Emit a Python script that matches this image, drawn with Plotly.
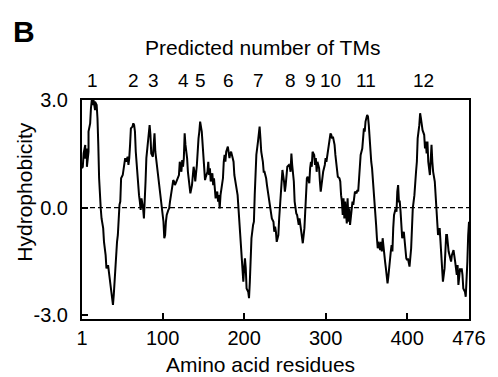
import plotly.graph_objects as go

# Residue positions and hydrophobicity values
residues = [1, 2, 3, 5, 5, 7, 7, 9, 9, 11, 12, 13, 14, 15, 17, 17, 19, 20, 21, 22, 24, 25, 27, 28,
            30, 31, 33, 34, 35, 36, 38, 39, 40, 41, 42, 44, 45, 46, 47, 48, 49, 51, 52, 53, 54,
            55, 57, 58, 59, 60, 61, 63, 64, 65, 66, 67, 69, 70, 71, 72, 73, 74, 76, 77, 78, 79,
            80, 82, 83, 84, 85, 86, 88, 89, 90, 91, 92, 94, 95, 96, 97, 98, 99, 101, 102, 103,
            104, 105, 107, 108, 109, 110, 111, 113, 114, 115, 116, 117,
            120, 121, 123, 124, 125, 126, 127, 128, 130, 131, 132, 133, 134, 136, 137, 138, 139,
            140, 142, 143, 144, 145, 146, 148, 149, 150, 151, 152, 153, 155, 156, 157, 158, 159,
            161, 162, 163, 164, 165, 167, 168, 169, 170, 171, 173, 174, 175, 176, 177, 178, 180,
            181, 182, 183, 184, 186, 187, 188, 189, 190, 192, 193, 194, 195, 196, 198, 199, 200,
            201, 202, 203, 205, 206, 207, 208, 209, 211, 212, 213, 214, 215, 217, 218, 219, 220,
            221, 223, 224, 225, 226, 227, 228, 230, 231, 232, 233, 234,
            236, 237, 238, 239, 240, 242, 243, 244, 245, 246, 247, 249, 250, 251, 252, 253, 255,
            256, 257, 258, 259, 261, 262, 263, 264, 265, 267, 268, 269, 270, 271, 272, 274, 275,
            276, 277, 278, 280, 281, 282, 283, 284, 286, 287, 288, 289, 290, 292, 293, 294, 295,
            296, 297, 299, 300, 301, 302, 303, 305, 306, 307, 308, 309, 311, 312, 313, 314, 315,
            317, 318, 319, 320, 321, 322, 323, 324, 326, 327, 328, 329, 330, 332, 333, 334, 335,
            336, 338, 339, 340, 341, 342, 343, 345, 346, 347, 348, 349, 351, 352, 353, 354,
            356, 357, 358, 359, 361, 362, 363, 364, 365, 367, 368, 369, 370, 371, 373, 374, 375,
            376, 377, 378, 380, 381, 382, 383, 384, 386, 387, 388, 389, 390, 391, 392, 393, 394,
            396, 397, 398, 399, 400, 401, 403, 404, 405, 406, 407, 409, 410, 411, 412, 413, 415,
            416, 417, 418, 419, 421, 422, 423, 424, 425, 426, 428, 429, 430, 431, 432, 434, 435,
            436, 437, 438, 440, 441, 442, 443, 444, 446, 447, 448, 449, 450, 451, 453, 454, 455,
            456, 457, 459, 460, 461, 462, 463, 465, 466, 467, 468, 469, 471, 472, 473, 474, 475, 476]

hydrophobicity = [1.10, 1.14, 1.51, 1.75, 1.37, 1.65, 1.14, 1.56, 2.12, 2.35, 2.77, 3.00, 2.86, 3.02,
                  2.72, 2.95, 2.86, 2.49, 1.75, 0.82, -0.02, -0.30, -0.57, -0.95, -1.32, -1.69,
                  -1.60, -1.78, -1.83, -2.15, -2.43, -2.71, -2.43, -1.97, -1.50, -0.95, -0.76,
                  -0.02, 0.08, 0.17, 0.82, 0.91, 1.10, 1.28, 1.38, 1.28, 1.42, 1.19, 1.38, 1.75,
                  2.21, 2.26, 2.35, 2.30, 2.12, 1.56, 0.82, 0.63, 0.35, 0.17, -0.06, 0.26, -0.02,
                  -0.30, 0.08, 0.73, 1.38, 1.84, 2.07, 2.30, 2.03, 1.51, 1.42, 1.84, 2.07, 1.56,
                  1.38, 0.91, 0.73, 0.54, 0.35, 0.17, -0.02, -0.39, -0.85, -0.76, -0.39, -0.20,
                  -0.06, -0.02, 0.17, 0.35, 0.54, 0.77, 0.73, 0.63, 0.68, 0.73,
                  0.91, 1.28, 1.00, 1.33, 1.14, 1.38, 2.07, 1.75, 1.38, 1.00, 0.73, 0.54, 0.40,
                  0.63, 1.00, 1.14, 1.00, 0.73, 1.19, 1.65, 1.93, 2.12, 2.40, 2.12, 1.75, 1.28,
                  0.91, 0.77, 0.86, 1.00, 1.28, 0.91, 1.10, 0.73, 0.96, 0.63, 0.82, 0.45, 0.26,
                  0.45, 0.17, 0.35, -0.02, 0.35, 0.63, 0.82, 1.28, 1.47, 1.28, 1.56, 1.70, 1.51,
                  1.38, 1.51, 1.56, 1.38, 1.28, 0.91, 0.68, 0.63, 0.35, -0.02, -0.30, -0.57,
                  -1.04, -1.69, -2.06, -1.69, -1.41, -1.69, -2.25, -2.34, -2.52, -2.06, -1.32,
                  -0.85, -0.48, -0.39, 0.35, 1.10, 1.47, 1.84, 2.12, 2.26, 1.93, 1.56, 1.28, 1.00,
                  1.00, 0.91, 0.82, 0.63, 0.35, 0.08, -0.06, -0.11, -0.30,
                  -0.39, -0.67, -0.53, -0.67, -0.95, -0.76, -0.30, 0.08, 0.35, 0.82, 1.05, 0.73,
                  0.45, 0.63, 0.91, 1.14, 1.19, 1.14, 1.00, 1.51, 1.19, 0.73, 0.17, -0.06, -0.16,
                  -0.20, -0.48, -0.30, -0.48, -0.57, -0.76, -0.99, -0.57, 0.08, 0.54, 0.82, 0.86,
                  0.68, 1.10, 1.28, 1.14, 1.56, 1.47, 1.19, 1.38, 1.00, 1.28, 1.10, 0.73, 0.45,
                  0.63, 0.82, 1.00, 1.19, 1.38, 1.28, 1.42, 1.65, 1.84, 2.07, 2.03, 1.93, 1.98,
                  1.75, 1.47, 1.24, 1.00, 0.86, 0.82, 0.73, 0.35, 0.17, -0.20, 0.26, -0.30, 0.17,
                  -0.44, 0.26, -0.39, -0.02, -0.48, -0.11, 0.17, 0.08, 0.35, 0.45, 0.40, 0.49,
                  0.45, 0.73, 1.10, 1.47, 1.65, 1.93, 2.21, 2.12, 2.40, 2.58, 2.54, 2.30, 1.84,
                  1.28, 1.10, 0.82, 0.35, -0.11, -0.48, -0.85, -1.13, -0.95, -1.18, -0.95, -1.22,
                  -0.85, -1.13, -1.50, -1.69, -1.92, -2.11, -1.92, -1.60, -1.22, -1.04, -1.22,
                  -0.57, -0.20, -0.02, -0.11, 0.45, 0.63, 0.17, 0.17, -0.11, -0.57, -0.85, -0.67,
                  -0.95, -1.22, -1.41, -1.46, -1.41, -1.64, -1.46, -1.13, -0.57, -0.02, 0.35, 0.82,
                  1.00, 1.28, 1.93, 2.30, 2.63, 2.49, 2.21, 2.16, 2.03, 1.65, 1.84, 1.51, 1.84,
                  1.28, 0.91, 1.47, 1.75, 1.28, 1.00, 0.73, 0.35, -0.02, -0.48, -0.76, -0.57,
                  -0.95, -1.50, -1.97, -2.06, -1.69, -1.13, -0.76, -0.76, -0.95, -1.22, -1.41,
                  -1.50, -1.32, -1.22, -1.18, -1.50, -1.69, -1.87, -1.60, -2.15, -1.69, -1.78,
                  -1.69, -1.87, -2.25, -2.34, -2.48, -2.06, -1.50, -0.76, -0.39]

x_tick_vals = [1, 100, 200, 300, 400, 476]
x_tick_text = ["1", "100", "200", "300", "400", "476"]
y_tick_vals = [3.0, 0.0, -3.0]
y_tick_text = ["3.0", "0.0", "-3.0"]
tm_positions = [14, 64, 89, 126, 146, 181, 218, 257, 281, 306, 350, 420]
tm_labels = ["1", "2", "3", "4", "5", "6", "7", "8", "9", "10", "11", "12"]

FONT = "Liberation Sans, Arial, sans-serif"
PLOT_W, PLOT_H = 398, 219

fig = go.Figure()
fig.add_trace(go.Scatter(x=residues, y=hydrophobicity, mode="lines",
                         line=dict(color="black", width=2), showlegend=False,
                         hoverinfo="skip"))

fig.add_shape(type="line", xref="paper", x0=0, x1=1, yref="y", y0=0, y1=0,
              line=dict(color="black", width=1.2, dash="5px,3px"))

annotations = [
    dict(text=lab, xref="x", yref="paper", x=pos, y=1.0 + 20 / PLOT_H, showarrow=False,
         font=dict(size=19), xanchor="center", yanchor="middle")
    for pos, lab in zip(tm_positions, tm_labels)
]
annotations += [
    dict(text="Predicted number of TMs", xref="paper", yref="paper",
         x=(268 - 82) / PLOT_W, y=1.0 + (100 - 47) / PLOT_H, showarrow=False,
         font=dict(size=21), xanchor="center", yanchor="middle"),
    dict(text="Hydrophobicity", xref="paper", yref="paper",
         x=(22 - 82) / PLOT_W, y=1.0 - (192 - 100) / PLOT_H, showarrow=False,
         textangle=-90, font=dict(size=21), xanchor="center", yanchor="middle"),
    dict(text="Amino acid residues", xref="paper", yref="paper",
         x=(266 - 82) / PLOT_W, y=-(364 - 319) / PLOT_H, showarrow=False,
         font=dict(size=21), xanchor="center", yanchor="middle"),
    dict(text="<b>B</b>", xref="paper", yref="paper", x=(22 - 82) / PLOT_W,
         y=1.0 + (100 - 31) / PLOT_H, showarrow=False, font=dict(size=30),
         xanchor="center", yanchor="middle"),
]

# The page body adds an 8px margin, so the figure is 8px smaller in each direction
fig.update_layout(
    width=490, height=369,
    margin=dict(l=74, r=18, t=92, b=58),
    paper_bgcolor="white", plot_bgcolor="white",
    font=dict(family=FONT, size=20, color="black"),
    xaxis=dict(range=[1, 476], tickvals=x_tick_vals, ticktext=x_tick_text,
               ticks="inside", ticklen=6, tickwidth=1.5, tickcolor="black",
               showline=True, linecolor="black", linewidth=2, mirror=True,
               showgrid=False, zeroline=False, tickfont=dict(size=20)),
    yaxis=dict(range=[-3.1, 3.0], tickvals=y_tick_vals, ticktext=y_tick_text,
               ticks="inside", ticklen=6, tickwidth=1.5, tickcolor="black",
               showline=True, linecolor="black", linewidth=2, mirror=True,
               showgrid=False, zeroline=False, tickfont=dict(size=20),
               ticklabelstandoff=8),
    annotations=annotations,
)

fig.write_html("out.html")
